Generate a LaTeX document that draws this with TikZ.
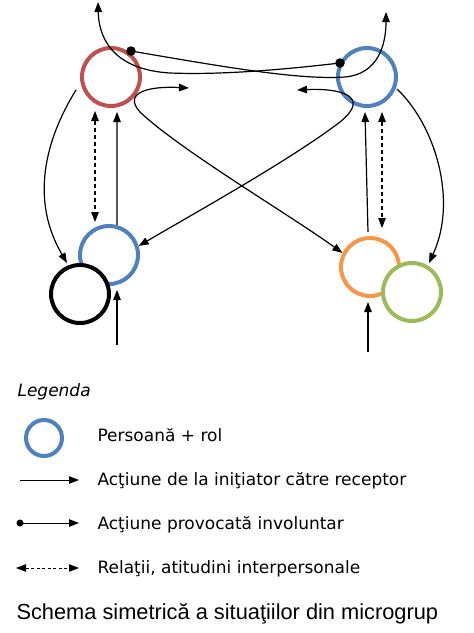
\documentclass[tikz,border=0pt]{standalone}
\usepackage{fontspec}
\setmainfont{DejaVu Sans}
\newfontfamily\titlefont{Liberation Sans}
\usetikzlibrary{arrows.meta}
\definecolor{cred}{HTML}{C0504D}
\definecolor{cblue}{HTML}{4F81BD}
\definecolor{corange}{HTML}{F79646}
\definecolor{cgreen}{HTML}{9BBB59}
\begin{document}
\begin{tikzpicture}[x=1pt,y=-1pt,
  person/.style={circle, draw, line width=4pt, minimum size=58pt, inner sep=0pt, outer sep=2pt},
  conn/.style={line width=1.2pt, -{Triangle[length=10pt,width=7.5pt]}},
  twoway/.style={line width=1.2pt, {Triangle[length=10pt,width=7.5pt]}-{Triangle[length=10pt,width=7.5pt]}},
  rel/.style={twoway, dash pattern=on 4pt off 3pt},
  blob/.style={circle, fill=black, inner sep=0pt, minimum size=9.5pt},
  lbl/.style={anchor=base west, font=\fontsize{17}{20}\selectfont}]
\useasboundingbox (0,0) rectangle (474,633);
% persons
\node[person, draw=cred] (R) at (111,77) {};
\node[person, draw=cblue] (Q) at (367,77) {};
\node[person, draw=cblue] (B) at (109,255) {};
\node[person, draw=black, fill=white] (K) at (80,294) {};
\node[person, draw=corange] (O) at (370,267) {};
\node[person, draw=cgreen, fill=white] (G) at (412,292) {};
% free ends
\coordinate (topL) at (98,2);
\coordinate (topR) at (386,12);
\coordinate (hR) at (189,88);
\coordinate (hQ) at (297,90);
\coordinate (rA) at (117,112);
\coordinate (rD1) at (95,111);
\coordinate (rD2) at (95,222);
\coordinate (bL) at (117,345);
\coordinate (bLt) at (117,290);
\coordinate (qA) at (365,112);
\coordinate (qD1) at (382,112);
\coordinate (qD2) at (382,228);
\coordinate (bR) at (368,352);
\coordinate (bRt) at (368,302);
\coordinate (oS) at (368,232);
\coordinate (rS) at (76,90);
\coordinate (kT) at (67,263);
\coordinate (qS) at (397,89);
\coordinate (gT) at (429,263);
% involuntary actions
\node[blob] (dR) at (131,51) {};
\node[blob] (dQ) at (340,63) {};
\draw[conn] (dR.center) .. controls (230,68) and (300,80) .. (345,77) .. controls (378,74) and (386,45) .. (topR);
\draw[conn] (dQ.center) .. controls (280,70) and (220,75) .. (170,73) .. controls (120,70) and (99,45) .. (topL);
% hooks
\draw[twoway] (hR) .. controls (150,86) and (122,92) .. (140,112) .. controls (180,150) and (290,215) .. (O.153);
\draw[twoway] (hQ) .. controls (340,88) and (372,96) .. (340,122) .. controls (290,160) and (200,210) .. (B.17);
% verticals
\draw[conn] (B.75) -- (rA);
\draw[rel] (rD1) -- (rD2);
\draw[conn] (bL) -- (bLt);
\draw[conn] (oS) -- (qA);
\draw[rel] (qD1) -- (qD2);
\draw[conn] (bR) -- (bRt);
% side curves
\draw[conn] (rS) .. controls (45,140) and (30,200) .. (kT);
\draw[conn] (qS) .. controls (435,125) and (458,200) .. (gT);
% legend
\node[anchor=base west, font=\itshape\fontsize{17}{20}\selectfont] (leg) at (14,396.7) {Legenda};
\node[person, draw=cblue, minimum size=36pt, line width=4pt] (L1) at (44,438) {};
\node[lbl] (t1) at (94,441.7) {Persoană + rol};
\node[lbl] (t2) at (94,485) {Acţiune de la iniţiator către receptor};
\node[lbl] (t3) at (94,529) {Acţiune provocată involuntar};
\node[lbl] (t4) at (94,573) {Relaţii, atitudini interpersonale};
\coordinate (a2s) at (20,480); \coordinate (a2e) at (79,480);
\draw[conn, line width=1pt] (a2s) -- (a2e);
\node[blob, minimum size=7pt] (a3s) at (20,523) {};
\coordinate (a3e) at (79,523);
\draw[conn, line width=1pt] (a3s.center) -- (a3e);
\coordinate (a4s) at (16,568); \coordinate (a4e) at (79,568);
\draw[rel, line width=1pt, dash pattern=on 3pt off 2.5pt] (a4s) -- (a4e);
\node[anchor=base west, font=\titlefont\fontsize{21.8}{26}\selectfont] (title) at (13,619) {Schema simetrică a situaţiilor din microgrup};
\end{tikzpicture}
\end{document}
